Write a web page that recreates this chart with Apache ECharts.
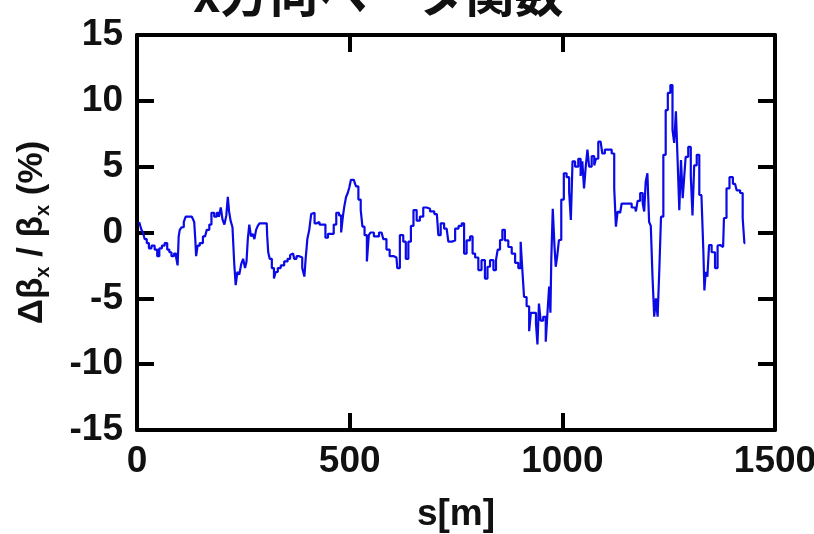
<!DOCTYPE html>
<html>
<head>
<meta charset="utf-8">
<script src="https://cdn.jsdelivr.net/npm/echarts@6/dist/echarts.min.js"></script>
<style>
  html, body { margin: 0; padding: 0; background: #ffffff; }
  #chart { width: 814px; height: 534px; }
</style>
</head>
<body>
<div id="chart"></div>
<script>
// Position along the ring s [m]
const sPos = [5,9,12,16,20,26,30,38,45,50,55,62,68,74,78,84,90,94,97,99,102,108,112,117,125,133,136,138,140,145,150,160,168,172,178,185,190,195,199,203,208,212,215,218,222,227,230,234,238,243,247,252,256,259,262,266,270,274,278,282,286,290,300,305,307,310,314,320,324,328,334,342,350,358,362,367,372,378,385,392,395,398,403,407,412,415,420,426,432,440,446,452,460,465,472,478,482,486,489,494,497,501,505,510,513,517,524,528,532,538,543,547,551,563,575,583,590,598,610,614,622,630,634,642,646,654,661,669,677,685,693,705,712,716,728,736,744,752,760,767,771,779,787,791,799,806,814,822,826,834,842,846,850,857,861,869,877,885,893,900,904,908,912,920,924,928,936,940,943,947,951,959,963,967,971,973,975,980,983,986,990,994,1001,1006,1014,1018,1022,1026,1034,1041,1045,1049,1053,1057,1061,1065,1073,1077,1081,1088,1092,1096,1104,1112,1120,1124,1128,1132,1136,1143,1155,1171,1175,1179,1187,1191,1194,1198,1202,1206,1210,1214,1218,1222,1226,1230,1234,1241,1245,1251,1257,1261,1265,1269,1273,1277,1281,1285,1288,1292,1300,1304,1308,1312,1320,1324,1330,1333,1335,1339,1343,1347,1355,1363,1367,1371,1378,1382,1390,1396,1406,1414,1422,1426,1430];

// Horizontal beta-beat Δβx/βx [%]
const dBeta = [0.8,0.8,0.2,0.0,-0.5,-0.8,-1.2,-1.0,-1.3,-1.8,-1.2,-1.0,-0.8,-1.3,-1.5,-1.8,-1.6,-1.9,-2.5,-0.3,0.2,0.4,0.8,1.2,1.2,1.2,0.8,-0.5,-1.8,-1.0,-0.8,-0.3,0.2,0.6,1.5,1.2,1.5,1.2,1.9,1.0,0.6,1.3,2.7,1.6,0.9,0.4,-2.3,-4.0,-3.0,-3.2,-2.4,-2.0,-2.7,-2.2,-0.5,0.6,-0.3,-0.1,-0.5,0.2,0.5,0.7,0.7,0.7,-0.2,-1.5,-2.0,-2.7,-3.5,-3.0,-2.7,-2.5,-2.2,-2.0,-1.7,-1.6,-2.0,-1.8,-1.9,-2.7,-3.35,-2.0,-0.5,0.2,1.4,1.5,0.7,0.8,0.6,0.6,-0.4,-0.1,-0.1,0.6,1.5,1.3,0.0,1.2,2.0,2.7,3.0,3.4,4.0,4.0,3.8,3.5,2.5,1.7,0.44,-0.2,-2.2,-0.2,0.0,-0.3,0.0,-0.5,-1.3,-1.8,-1.9,-2.7,-0.2,-0.7,-2.0,-0.7,0.5,1.7,0.9,1.2,1.9,1.8,1.6,1.4,-0.2,0.7,0.3,-0.7,-0.6,0.3,0.5,0.7,-1.6,-0.6,-0.3,-1.6,-1.9,-2.85,-2.1,-3.5,-2.6,-2.1,-2.85,-2.1,-1.3,-0.57,0.2,-0.6,-1.1,-1.6,-2.3,-2.7,-0.7,-2.85,-4.9,-5.6,-7.5,-6.1,-6.1,-6.9,-8.5,-5.4,-6.7,-6.4,-8.3,-6.1,-4.1,-6.1,-2.1,1.8,-1.0,-2.6,-1.8,-0.57,2.5,4.5,4.2,3.1,0.95,5.4,5.0,5.6,4.3,5.4,3.35,5.0,6.3,5.0,5.8,5.1,5.6,6.9,7.0,6.0,6.3,6.3,6.0,3.35,0.44,1.6,1.5,2.2,2.2,1.9,1.6,2.4,3.0,2.2,1.6,3.86,4.5,0.8,0.5,-3.35,-6.4,-5.0,-6.4,-2.85,1.2,5.9,9.3,10.6,11.2,7.8,6.8,9.2,5.5,1.7,5.5,2.6,4.2,5.75,6.5,4.3,1.3,5.1,5.9,2.85,2.7,-1.33,-4.4,-3.0,-3.35,-0.95,-1.5,-2.7,-1.0,-0.95,-1.1,1.1,3.35,4.2,3.7,3.2,3.0,1.1,-0.8];

const xTicks = [0, 500, 1000, 1500];
const yTicks = [-15, -10, -5, 0, 5, 10, 15];

const chartTitle = 'x方向ベータ関数';
const xName = 's[m]';

const series = sPos.map((s, i) => [s, dBeta[i]]);

const chart = echarts.init(document.getElementById('chart'), null, { renderer: 'canvas' });

const fontFamily = 'Liberation Sans, Arial, sans-serif';
const labelFont = {
  fontFamily: fontFamily,
  fontWeight: 'bold',
  fontSize: 37,
  color: '#111111'
};

const tickStyle = { show: true, inside: true, length: 17, lineStyle: { color: '#000', width: 4 } };
const frameLine = { show: true, onZero: false, lineStyle: { color: '#000', width: 4 } };
const plainNumber = v => String(v);

chart.setOption({
  animation: false,
  backgroundColor: '#ffffff',
  title: {
    text: chartTitle,
    left: 188,
    top: -36,
    textStyle: {
      fontFamily: 'Noto Sans CJK JP',
      fontWeight: 'bold',
      fontSize: 49,
      color: '#111111'
    }
  },
  grid: { left: 137, right: 39, top: 35, bottom: 104, containLabel: false, outerBoundsMode: 'none' },
  xAxis: [
    {
      type: 'value',
      min: xTicks[0],
      max: xTicks[xTicks.length - 1],
      interval: 500,
      position: 'bottom',
      axisLine: frameLine,
      axisTick: tickStyle,
      splitLine: { show: false },
      axisLabel: Object.assign({ margin: 13, formatter: plainNumber }, labelFont),
      name: xName,
      nameLocation: 'middle',
      nameGap: 66,
      nameTextStyle: Object.assign({}, labelFont, { fontSize: 37 })
    },
    {
      type: 'value',
      min: xTicks[0],
      max: xTicks[xTicks.length - 1],
      interval: 500,
      position: 'top',
      axisLine: frameLine,
      axisTick: tickStyle,
      splitLine: { show: false },
      axisLabel: { show: false }
    }
  ],
  yAxis: [
    {
      type: 'value',
      min: yTicks[0],
      max: yTicks[yTicks.length - 1],
      interval: 5,
      position: 'left',
      axisLine: frameLine,
      axisTick: tickStyle,
      splitLine: { show: false },
      axisLabel: Object.assign({ margin: 14, formatter: plainNumber }, labelFont),
      name: '{a|Δβ}{s|x}{a| / β}{s|x}{a| (%)}',
      nameLocation: 'middle',
      nameRotate: 90,
      nameGap: 84,
      nameTextStyle: {
        rich: {
          a: { fontFamily: fontFamily, fontWeight: 'bold', fontSize: 35, color: '#111', lineHeight: 42, verticalAlign: 'middle' },
          s: { fontFamily: fontFamily, fontWeight: 'bold', fontSize: 20, color: '#111', lineHeight: 42, verticalAlign: 'bottom', padding: [15, 0, 0, 0] }
        }
      }
    },
    {
      type: 'value',
      min: yTicks[0],
      max: yTicks[yTicks.length - 1],
      interval: 5,
      position: 'right',
      axisLine: frameLine,
      axisTick: tickStyle,
      splitLine: { show: false },
      axisLabel: { show: false }
    }
  ],
  series: [
    {
      type: 'line',
      data: series,
      step: 'middle',
      showSymbol: false,
      symbol: 'none',
      lineStyle: { color: '#0a0ae6', width: 2.2 },
      z: 1
    }
  ]
});
</script>
</body>
</html>
